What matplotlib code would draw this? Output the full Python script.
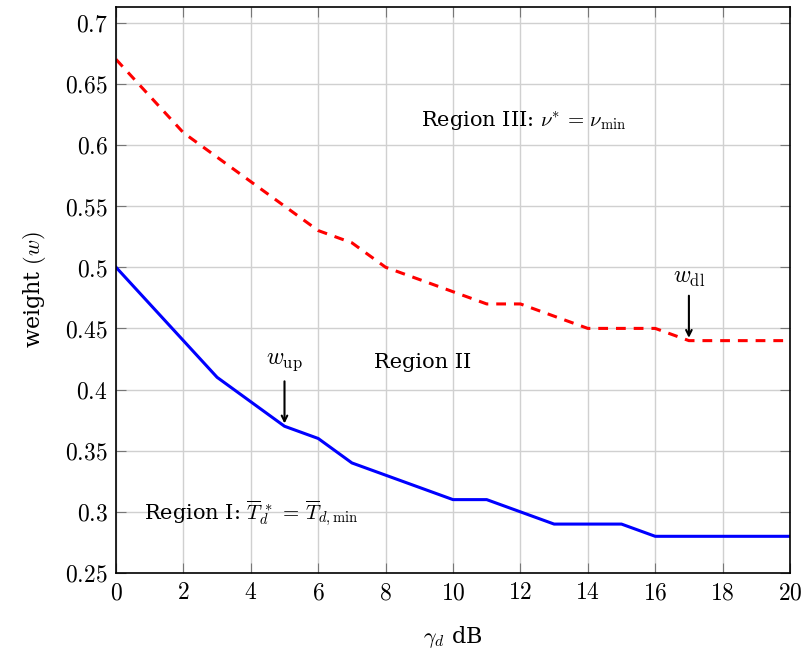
import matplotlib
matplotlib.use("Agg")
import matplotlib.pyplot as plt

gamma_db = [0, 1, 2, 3, 4, 5, 6, 7, 8, 9, 10, 11, 12, 13, 14, 15, 16, 17, 18, 19, 20]
w_dl = [0.67, 0.64, 0.61, 0.59, 0.57, 0.55, 0.53, 0.52, 0.50, 0.49, 0.48, 0.47, 0.47, 0.46, 0.45, 0.45, 0.45, 0.44, 0.44, 0.44, 0.44]
w_up = [0.50, 0.47, 0.44, 0.41, 0.39, 0.37, 0.36, 0.34, 0.33, 0.32, 0.31, 0.31, 0.30, 0.29, 0.29, 0.29, 0.28, 0.28, 0.28, 0.28, 0.28]
xticks = [0, 2, 4, 6, 8, 10, 12, 14, 16, 18, 20]
yticks = [0.25, 0.3, 0.35, 0.4, 0.45, 0.5, 0.55, 0.6, 0.65, 0.7]
ytick_labels = ["0.25", "0.3", "0.35", "0.4", "0.45", "0.5", "0.55", "0.6", "0.65", "0.7"]

plt.rcParams['font.family'] = ['DejaVu Serif']
plt.rcParams['mathtext.fontset'] = 'cm'

fig = plt.figure(figsize=(8.02, 6.53), dpi=100)
ax = fig.add_axes([116/802, 1 - 573/653, (790 - 116)/802, (573 - 7)/653])

ax.plot(gamma_db, w_dl, color='red', linestyle=(0, (3.2, 2.6)), linewidth=2.2)
ax.plot(gamma_db, w_up, color='blue', linestyle='-', linewidth=2.2)

ax.set_xlim(0, 20)
ax.set_ylim(0.25, 0.7128)
ax.set_xticks(xticks)
ax.set_xticklabels([f'${t}$' for t in xticks])
ax.set_yticks(yticks)
ax.set_yticklabels([f'${t}$' for t in ytick_labels])
ax.grid(True, color='#d0d0d0', linewidth=1.0)
ax.set_axisbelow(True)
ax.tick_params(direction='in', top=True, right=True, labelsize=17, length=7,
               color='#777777', pad=6)
for s in ax.spines.values():
    s.set_linewidth(1.2)

ax.set_xlabel(r'$\gamma_d$ dB', fontsize=16, labelpad=14)
ax.set_ylabel(r'weight $(w)$', fontsize=16, labelpad=12)

ax.annotate('', xy=(5, 0.370), xytext=(5, 0.409),
            arrowprops=dict(arrowstyle='->', color='black', lw=1.5))
ax.text(5, 0.423, r'$w_{\mathrm{up}}$', fontsize=17, ha='center', va='center')
ax.annotate('', xy=(17, 0.440), xytext=(17, 0.479),
            arrowprops=dict(arrowstyle='->', color='black', lw=1.5))
ax.text(17, 0.492, r'$w_{\mathrm{dl}}$', fontsize=17, ha='center', va='center')

ax.text(12.1, 0.62, r'Region III: $\nu^{*}\,=\,\nu_{\min}$', fontsize=15, ha='center', va='center')
ax.text(9.1, 0.422, 'Region II', fontsize=15, ha='center', va='center')
ax.text(4.0, 0.298, r'Region I: $\overline{T}_d^{\,*}\,=\,\overline{T}_{d,\min}$', fontsize=15, ha='center', va='center')

fig.savefig('out.png', dpi=100)
